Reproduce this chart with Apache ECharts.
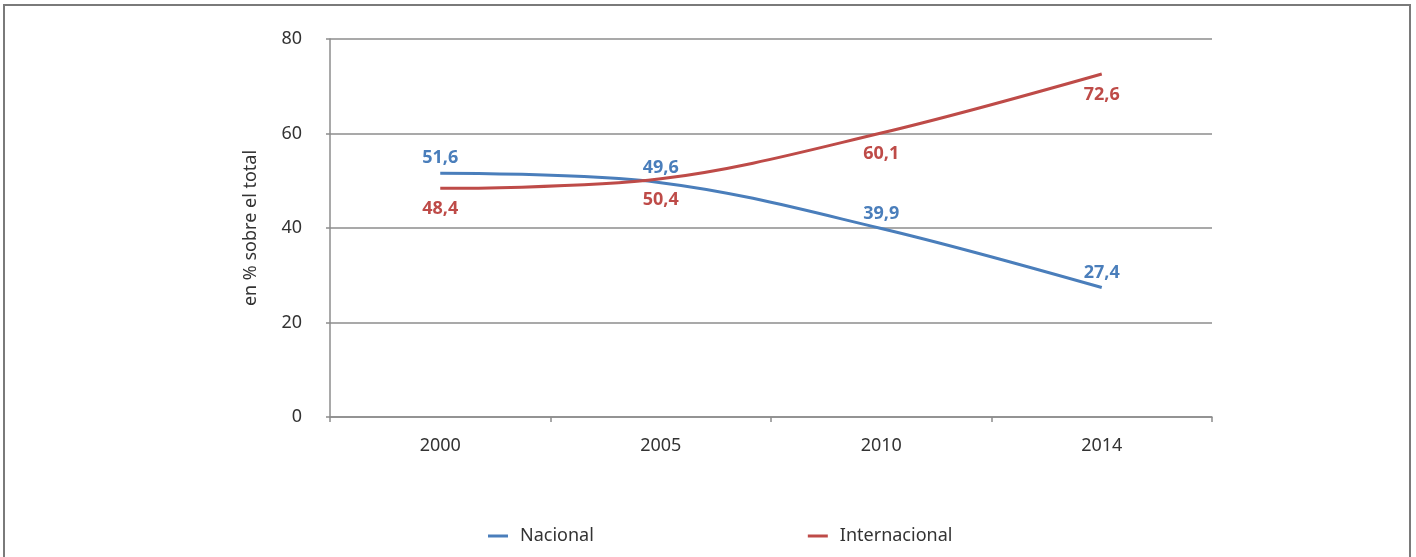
<!DOCTYPE html>
<html><head><meta charset="utf-8">
<script src="https://cdn.jsdelivr.net/npm/echarts@6/dist/echarts.min.js"></script>
<style>html,body{margin:0;padding:0;background:#fff}#c{width:1416px;height:557px}</style>
</head><body><div id="c"></div>
<script>
const categories = ['2000', '2005', '2010', '2014'];
const nacional = [51.6, 49.6, 39.9, 27.4];
const internacional = [48.4, 50.4, 60.1, 72.6];
const yTicks = [0, 20, 40, 60, 80];

const blue = '#4a7ebb', red = '#be4b48';
const fmt = p => String(p.value).replace('.', ',');
const chart = echarts.init(document.getElementById('c'));
chart.setOption({
  backgroundColor: '#fff',
  animation: false,
  graphic: [{type: 'rect', shape: {x: 4, y: 5, width: 1406, height: 600}, style: {fill: 'none', stroke: '#7a7a7a', lineWidth: 2}}],
  grid: {left: 330, right: 204, top: 39, bottom: 140},
  legend: {
    top: 522, left: 483, itemGap: 214, icon: 'rect', itemWidth: 20, itemHeight: 3,
    textStyle: {fontFamily: 'Noto Sans', fontSize: 18, color: '#333', padding: [0, 0, 0, 7]},
    data: ['Nacional', 'Internacional']
  },
  xAxis: {
    type: 'category', data: categories, boundaryGap: true,
    axisLine: {lineStyle: {color: '#8c8c8c', width: 1.5}},
    axisTick: {show: true, length: 5, lineStyle: {color: '#8c8c8c', width: 1.5}},
    axisLabel: {fontFamily: 'Noto Sans', fontSize: 18, color: '#333', margin: 20}
  },
  yAxis: {
    type: 'value', min: yTicks[0], max: yTicks[yTicks.length - 1], interval: 20,
    name: 'en % sobre el total', nameLocation: 'middle', nameGap: 70,
    nameTextStyle: {fontFamily: 'Noto Sans', fontSize: 18, color: '#333'},
    axisLine: {show: true, lineStyle: {color: '#8c8c8c', width: 1.5}},
    axisTick: {show: true, length: 4, lineStyle: {color: '#8c8c8c', width: 1.5}},
    axisLabel: {fontFamily: 'Noto Sans', fontSize: 18, color: '#333', margin: 28},
    splitLine: {lineStyle: {color: '#8c8c8c', width: 1.5}}
  },
  series: [
    {
      name: 'Nacional', type: 'line', data: nacional, smooth: 0.35, symbol: 'circle', symbolSize: 0.1, showSymbol: true,
      lineStyle: {color: blue, width: 3}, itemStyle: {color: blue},
      label: {show: true, position: 'top', distance: 6, formatter: fmt, color: blue, fontFamily: 'Noto Sans', fontWeight: 'bold', fontSize: 18}
    },
    {
      name: 'Internacional', type: 'line', data: internacional, smooth: 0.35, symbol: 'circle', symbolSize: 0.1, showSymbol: true,
      lineStyle: {color: red, width: 3}, itemStyle: {color: red},
      label: {show: true, position: 'bottom', distance: 12, formatter: fmt, color: red, fontFamily: 'Noto Sans', fontWeight: 'bold', fontSize: 18}
    }
  ]
});
</script></body></html>
